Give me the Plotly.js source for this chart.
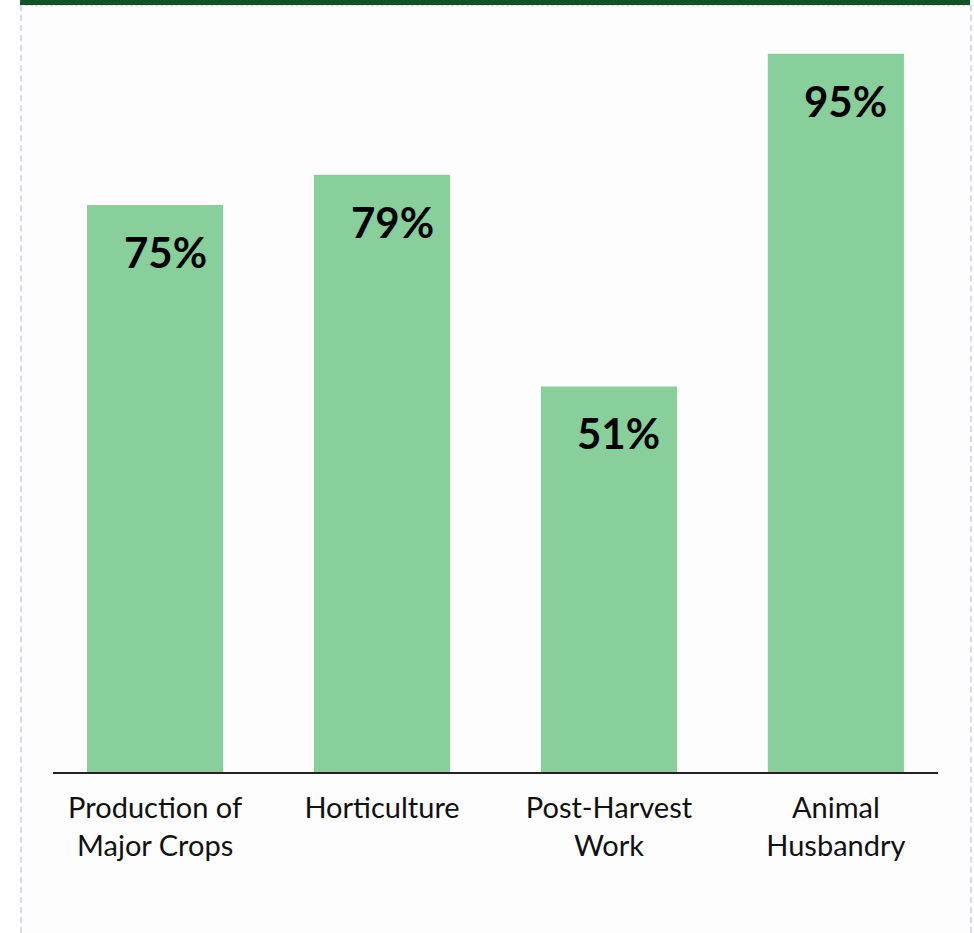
<!DOCTYPE html>
<html>
<head>
<meta charset="utf-8">
<script src="https://cdn.plot.ly/plotly-3.0.1.min.js"></script>
<style>
  html, body { margin: 0; padding: 0; background: #ffffff; }
  #frame { position: absolute; left: 20px; top: 0; width: 950px; height: 933px;
           border-top: 5px solid #115324; background: #fdfdfd; box-sizing: border-box; }
  #frame .dl { position: absolute; left: 0; top: 0; bottom: 0; border-left: 2px dashed #dcd8ea; }
  #frame .dr { position: absolute; right: -2px; top: 0; bottom: 0; border-left: 2px dashed #dcd8ea; }
  #frame .dt { position: absolute; left: 0; right: 0; top: 0; border-top: 1px dashed #d8d8e0; }
  #chart { position: absolute; left: 0; top: 0; width: 974px; height: 933px; }
</style>
</head>
<body>
<div id="frame"><div class="dl"></div><div class="dr"></div><div class="dt"></div></div>
<div id="chart"></div>
<script>
const categories = ["Production of<br>Major Crops", "Horticulture", "Post-Harvest<br>Work", "Animal<br>Husbandry"];
const values = [75, 79, 51, 95];
const valueLabels = ["75%", "79%", "51%", "95%"];

const trace = {
  type: "bar",
  x: categories,
  y: values,
  width: 0.6,
  marker: { color: "#88cf9c" },
  hoverinfo: "none"
};

const annotations = categories.map((c, i) => ({
  x: c, y: values[i], xref: "x", yref: "y",
  text: valueLabels[i], showarrow: false,
  xanchor: "center", yanchor: "middle",
  xshift: 10, yshift: -47,
  font: { family: "Lato, 'Noto Sans', sans-serif", size: 42, color: "#000000", weight: 700 }
}));

const layout = {
  width: 974, height: 933,
  margin: { l: 53, r: 36, t: 16, b: 161 },
  paper_bgcolor: "rgba(0,0,0,0)",
  plot_bgcolor: "rgba(0,0,0,0)",
  showlegend: false,
  xaxis: {
    type: "category",
    range: [-0.45, 3.45],
    showline: true, linecolor: "#222222", linewidth: 1.5,
    ticks: "", showgrid: false, zeroline: false,
    tickfont: { family: "Lato, 'Noto Sans', sans-serif", size: 29, color: "#111111" },
    ticklabelstandoff: 10
  },
  yaxis: {
    range: [0, 100],
    visible: false, showgrid: false, zeroline: false
  },
  annotations: annotations
};

Plotly.newPlot("chart", [trace], layout, { displayModeBar: false, staticPlot: true });
</script>
</body>
</html>
